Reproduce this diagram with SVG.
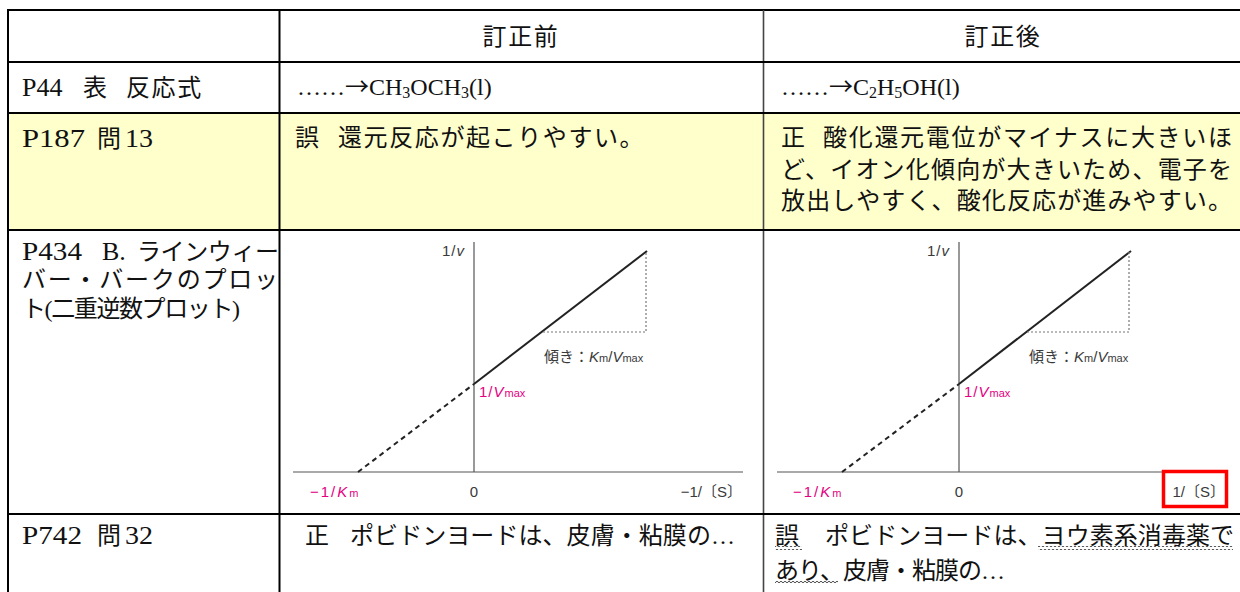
<svg xmlns="http://www.w3.org/2000/svg" width="1240" height="592" viewBox="0 0 1240 592">
<defs>
<style>
.t{font-family:"Liberation Serif","Noto Sans CJK JP",serif;font-size:24px;fill:#111}
.n{font-family:"Liberation Serif","Noto Sans CJK JP",serif;font-size:26px;fill:#111}
.ls{letter-spacing:1.6px}
.f{font-family:"Liberation Serif","Noto Sans CJK JP",serif;font-size:24px;fill:#111}
.ar{font-family:"Noto Sans CJK JP",sans-serif}
.g{font-family:"Liberation Sans","Noto Sans CJK JP",sans-serif;font-size:15px;fill:#3a3a3a}
.m{fill:#e4007f}
.ax{stroke:#555;stroke-width:1.2;fill:none}
.sl{stroke:#222;stroke-width:2;fill:none}
.ds{stroke:#222;stroke-width:2;stroke-dasharray:5 4;fill:none}
.dt{stroke:#777;stroke-width:1.2;stroke-dasharray:2 2;fill:none}
.hl{stroke:#000;stroke-width:2}
</style>
<pattern id="wave" x="0" y="0" width="4" height="4" patternUnits="userSpaceOnUse">
<path d="M0 2 Q1 0.4 2 2 T4 2" fill="none" stroke="#333" stroke-width="0.9"/>
</pattern>
</defs>

<g id="table">
<rect x="0" y="0" width="1240" height="592" fill="#ffffff"/>
<rect x="8" y="113" width="1232" height="117" fill="#ffffcc"/>
<line class="hl" x1="7" y1="10" x2="1240" y2="10"/>
<line class="hl" x1="8" y1="9" x2="8" y2="592"/>
<line class="hl" x1="279.5" y1="10" x2="279.5" y2="592"/>
<line x1="763.5" y1="10" x2="763.5" y2="592" stroke="#444" stroke-width="1.6"/>
<line class="hl" x1="8" y1="62" x2="1240" y2="62"/>
<line class="hl" x1="8" y1="113" x2="1240" y2="113"/>
<line class="hl" x1="8" y1="230" x2="1240" y2="230"/>
<line class="hl" x1="8" y1="514" x2="1240" y2="514"/>
</g>

<g id="header">
<text class="t ls" x="521" y="45" text-anchor="middle">訂正前</text>
<text class="t ls" x="1003" y="45" text-anchor="middle">訂正後</text>
</g>

<g id="row-p44">
<text class="n" x="22" y="96">P44</text>
<text class="t" x="83" y="96">表</text>
<text class="t ls" x="126" y="96">反応式</text>
<text class="f" x="297" y="95">……<tspan class="ar">→</tspan>CH<tspan font-size="16" dy="3">3</tspan><tspan dy="-3">OCH</tspan><tspan font-size="16" dy="3">3</tspan><tspan dy="-3">(l)</tspan></text>
<text class="f" x="781" y="95">……<tspan class="ar">→</tspan>C<tspan font-size="16" dy="3">2</tspan><tspan dy="-3">H</tspan><tspan font-size="16" dy="3">5</tspan><tspan dy="-3">OH(l)</tspan></text>
</g>

<g id="row-p187">
<text class="n" x="22" y="147" textLength="63" lengthAdjust="spacingAndGlyphs">P187</text>
<text class="t" x="97" y="147">問</text>
<text class="n" x="125" y="147" textLength="28" lengthAdjust="spacingAndGlyphs">13</text>
<text class="t" x="295" y="146">誤</text>
<text class="t ls" x="338" y="146">還元反応が起こりやすい。</text>
<text class="t" x="781" y="146">正</text>
<text class="t" x="823" y="146" textLength="409" lengthAdjust="spacing">酸化還元電位がマイナスに大きいほ</text>
<text class="t" x="781" y="178" textLength="451" lengthAdjust="spacing">ど、イオン化傾向が大きいため、電子を</text>
<text class="t" x="781" y="209" textLength="451" lengthAdjust="spacing">放出しやすく、酸化反応が進みやすい。</text>
</g>

<g id="row-p434">
<text class="n" x="22" y="260" textLength="60" lengthAdjust="spacingAndGlyphs">P434</text>
<text class="n" x="102" y="260">B.</text>
<text class="t" x="137" y="260" textLength="142" lengthAdjust="spacing">ラインウィー</text>
<text class="t" x="22" y="288" textLength="256" lengthAdjust="spacing">バー・バークのプロッ</text>
<text class="t" x="22" y="317" textLength="218" lengthAdjust="spacing">ト(二重逆数プロット)</text>
</g>

<g id="graph-before">
<line class="ax" x1="474" y1="242" x2="474" y2="472"/>
<line class="ax" x1="293" y1="472" x2="743" y2="472"/>
<line class="ds" x1="358" y1="472" x2="474" y2="384"/>
<line class="sl" x1="474" y1="384" x2="647" y2="251"/>
<polyline class="dt" points="543,332 646,332 646,251"/>
<text class="g" x="465" y="256" text-anchor="end" letter-spacing="1">1/<tspan font-style="italic">v</tspan></text>
<text class="g" x="544" y="362">傾き：<tspan font-style="italic">K</tspan><tspan font-size="11">m</tspan>/<tspan font-style="italic">V</tspan><tspan font-size="11">max</tspan></text>
<text class="g m" x="479" y="397" letter-spacing="1">1/<tspan font-style="italic">V</tspan><tspan font-size="11" letter-spacing="0">max</tspan></text>
<text class="g m" x="310" y="497" letter-spacing="2">−1/<tspan font-style="italic">K</tspan><tspan font-size="11" letter-spacing="0">m</tspan></text>
<text class="g" x="474" y="497" text-anchor="middle">0</text>
<text class="g" x="742" y="497" text-anchor="end">−1/〔S〕</text>
</g>

<g id="graph-after">
<line class="ax" x1="959" y1="242" x2="959" y2="472"/>
<line class="ax" x1="777" y1="472" x2="1162" y2="472"/>
<line class="ds" x1="842" y1="472" x2="959" y2="384"/>
<line class="sl" x1="959" y1="384" x2="1131" y2="251"/>
<polyline class="dt" points="1027,332 1129,332 1129,251"/>
<text class="g" x="950" y="256" text-anchor="end" letter-spacing="1">1/<tspan font-style="italic">v</tspan></text>
<text class="g" x="1029" y="362">傾き：<tspan font-style="italic">K</tspan><tspan font-size="11">m</tspan>/<tspan font-style="italic">V</tspan><tspan font-size="11">max</tspan></text>
<text class="g m" x="964" y="397" letter-spacing="1">1/<tspan font-style="italic">V</tspan><tspan font-size="11" letter-spacing="0">max</tspan></text>
<text class="g m" x="793" y="497" letter-spacing="2">−1/<tspan font-style="italic">K</tspan><tspan font-size="11" letter-spacing="0">m</tspan></text>
<text class="g" x="959" y="497" text-anchor="middle">0</text>
<rect x="1163.5" y="471.5" width="63" height="35" fill="#ffffff" stroke="#ff0000" stroke-width="3.5"/>
<text class="g" x="1225" y="497" text-anchor="end">1/〔S〕</text>
</g>

<g id="row-p742">
<text class="n" x="22" y="544" textLength="60" lengthAdjust="spacingAndGlyphs">P742</text>
<text class="t" x="97" y="544">問</text>
<text class="n" x="125" y="544" textLength="28" lengthAdjust="spacingAndGlyphs">32</text>
<text class="t" x="305" y="544">正</text>
<text class="t" x="350" y="544" textLength="385" lengthAdjust="spacing">ポビドンヨードは、皮膚・粘膜の…</text>
<text class="t" x="775" y="544">誤</text>
<text class="t" x="825" y="544" textLength="409" lengthAdjust="spacing">ポビドンヨードは、ヨウ素系消毒薬で</text>
<text class="t" x="775" y="579" textLength="230" lengthAdjust="spacing">あり、皮膚・粘膜の…</text>
<rect x="775" y="546" width="27" height="4" fill="url(#wave)"/>
<rect x="1038" y="546" width="195" height="4" fill="url(#wave)"/>
<rect x="775" y="580" width="63" height="4" fill="url(#wave)"/>
</g>
</svg>
